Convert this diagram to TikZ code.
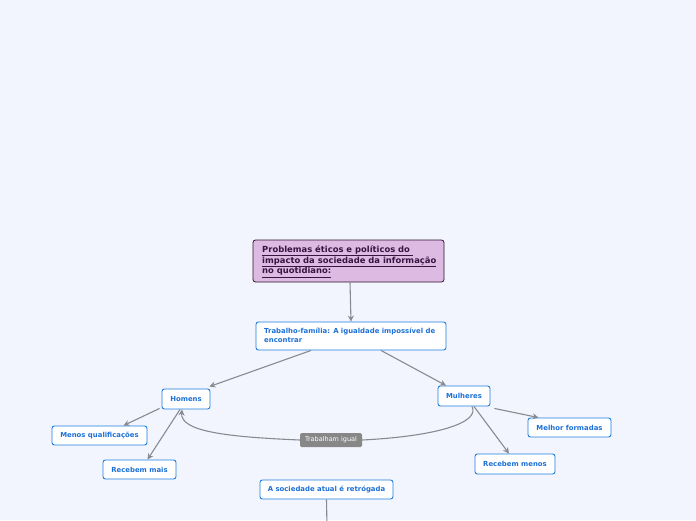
\documentclass[tikz,border=0pt]{standalone}
\usepackage{fontspec}
\setmainfont{DejaVu Sans}
\usetikzlibrary{arrows.meta}
\definecolor{bgblue}{RGB}{242,245,253}
\definecolor{topicblue}{RGB}{30,125,225}
\definecolor{topictext}{RGB}{28,112,215}
\definecolor{rootfill}{RGB}{221,186,226}
\definecolor{rootdraw}{RGB}{45,20,50}
\definecolor{roottext}{RGB}{55,20,65}
\definecolor{linkgray}{RGB}{135,138,145}
\definecolor{relgray}{RGB}{135,135,135}
\tikzset{
  topic/.style={draw=topicblue, fill=white, line width=0.9pt, rounded corners=2.5pt,
    text=topictext, font=\fontsize{6.9}{8.5}\selectfont\bfseries, inner sep=0pt, align=center},
  rootbox/.style={draw=rootdraw, fill=rootfill, line width=0.8pt, rounded corners=2.5pt,
    text=roottext, font=\fontsize{8.4}{10.6}\selectfont\bfseries, inner sep=0pt},
  link/.style={draw=linkgray, line width=1.1pt, -{Stealth[length=6pt,width=6pt]}},
  relation/.style={fill=relgray, text=white, rounded corners=1.5pt,
    font=\fontsize{6.5}{7.5}\selectfont, inner sep=0pt}
}
\begin{document}
\begin{tikzpicture}[x=1pt, y=-1pt]
\useasboundingbox[fill=bgblue] (0,0) rectangle (696,520);
% central topic
\node[rootbox, minimum width=191, minimum height=42] (root) at (348.5,261) {};
\node[anchor=north west, text=roottext, font=\fontsize{8.4}{10.6}\selectfont\bfseries, inner sep=0pt, align=left]
  (roottxt) at (262,245.5) {\underline{Problemas éticos e políticos do }\\\underline{impacto da sociedade da informação}\\\underline{no quotidiano:}};
% main topic
\node[topic, minimum width=190, minimum height=28] (trab) at (351,336) {};
\node[anchor=north west, text=topictext, font=\fontsize{6.9}{9.4}\selectfont\bfseries, inner sep=0pt, align=left]
  (trabtxt) at (264,327.5) {Trabalho-família: A igualdade impossível de\\encontrar};
% subtopics
\node[topic, minimum width=48, minimum height=20] (homens) at (186,399) {Homens};
\node[topic, minimum width=52, minimum height=20] (mulh) at (464,396) {Mulheres};
\node[topic, minimum width=95, minimum height=19] (menos) at (99.5,435.5) {Menos qualificações};
\node[topic, minimum width=73, minimum height=19] (rmais) at (139.5,469.5) {Recebem mais};
\node[topic, minimum width=83, minimum height=19] (melhor) at (569.5,427.5) {Melhor formadas};
\node[topic, minimum width=80, minimum height=20] (rmenos) at (515,464) {Recebem menos};
\node[topic, minimum width=133, minimum height=19] (socied) at (326.5,489.5) {A sociedade atual é retrógada};
\node[relation, minimum width=62, minimum height=14] (igual) at (331,440) {Trabalham igual};
\coordinate (offpage) at (327,528);
% connectors
\draw[link] ([xshift=1.5]root.south) -- ([xshift=0]trab.north);
\draw[link] ([xshift=-40]trab.south) -- ([xshift=-1,yshift=2]homens.north east);
\draw[link] ([xshift=30]trab.south) -- ([xshift=-18]mulh.north);
\draw[link] ([xshift=-2,yshift=1]homens.south west) -- ([xshift=24]menos.north);
\draw[link] ([xshift=-6]homens.south) -- ([xshift=8]rmais.north);
\draw[link] ([xshift=4,yshift=-2]mulh.south east) -- ([xshift=-31]melhor.north);
\draw[link] ([xshift=10]mulh.south) -- ([xshift=-6]rmenos.north);
\draw[link] (socied.south) -- (offpage);
% relation curve
\draw[draw=linkgray, line width=1.1pt] ([xshift=8]mulh.south) .. controls (480,422) and (440,436) .. (igual.east);
\draw[link] (igual.west) .. controls (230,437) and (180,432) .. ([xshift=-4]homens.south);
\end{tikzpicture}
\end{document}
